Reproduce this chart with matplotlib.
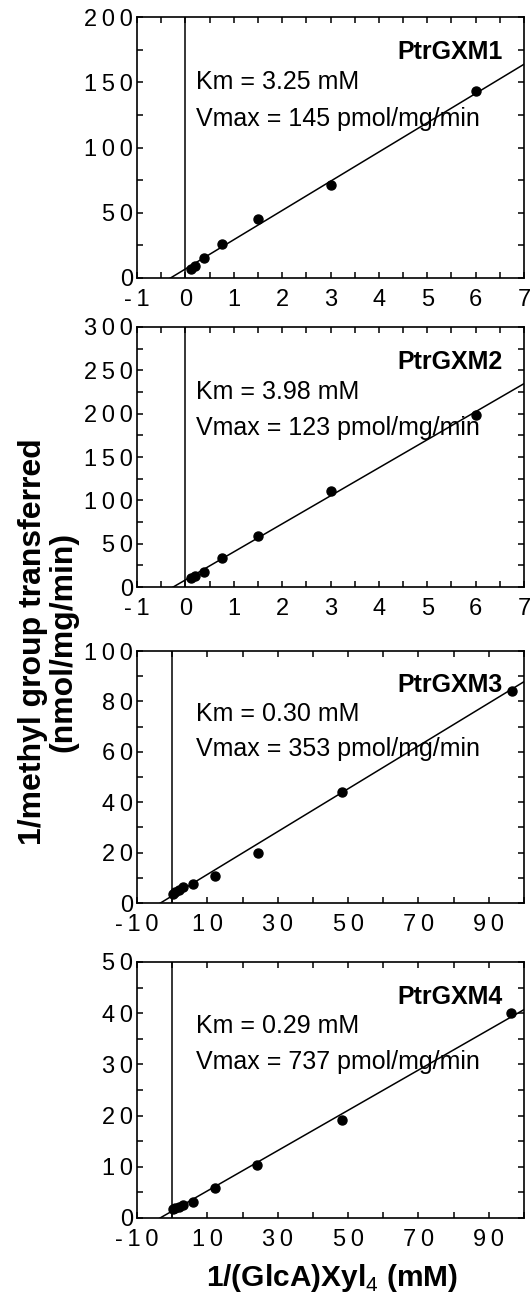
#Lineweaver-Burk plots for PtrGXM1-4
import numpy as np
import matplotlib
matplotlib.use("Agg")
import matplotlib.pyplot as plt
from matplotlib.ticker import MultipleLocator, FixedLocator, FuncFormatter

plt.rcParams['font.family'] = ['Liberation Sans', 'DejaVu Sans']
plt.rcParams['mathtext.fontset'] = 'custom'
plt.rcParams['mathtext.rm'] = 'Liberation Sans'
plt.rcParams['mathtext.bf'] = 'Liberation Sans:bold'

#Data
names = ["PtrGXM1", "PtrGXM2", "PtrGXM3", "PtrGXM4"]
km = [3.25, 3.98, 0.30, 0.29]        # mM
vmax = [145, 123, 353, 737]          # pmol/mg/min

x1 = [0.125, 0.19, 0.375, 0.75, 1.5, 3.0, 6.0]
y1 = [7.0, 9.3, 15.4, 26.0, 45.0, 71.5, 143.0]
x2 = [0.125, 0.19, 0.375, 0.75, 1.5, 3.0, 6.0]
y2 = [10.4, 12.7, 17.7, 33.5, 58.8, 111.0, 199.0]
x3 = [0.3, 0.9, 1.8, 3.0, 6.0, 12.3, 24.3, 48.4, 96.6]
y3 = [3.7, 4.5, 5.2, 6.2, 7.7, 10.8, 20.0, 44.0, 84.0]
x4 = [0.1, 0.9, 1.8, 3.0, 6.0, 12.3, 24.2, 48.3, 96.4]
y4 = [1.8, 1.9, 2.1, 2.5, 3.1, 5.8, 10.3, 19.2, 40.0]

xs = [x1, x2, x3, x4]
ys = [y1, y2, y3, y4]
xlims = [(-1, 7), (-1, 7), (-10, 100), (-10, 100)]
ylims = [(0, 200), (0, 300), (0, 100), (0, 50)]
xlabels = [[-1, 0, 1, 2, 3, 4, 5, 6, 7], [-1, 0, 1, 2, 3, 4, 5, 6, 7],
           [-10, 10, 30, 50, 70, 90], [-10, 10, 30, 50, 70, 90]]
xminor = [0.5, 0.5, 10, 10]
ylabels = [[0, 50, 100, 150, 200], [0, 50, 100, 150, 200, 250, 300],
           [0, 20, 40, 60, 80, 100], [0, 10, 20, 30, 40, 50]]
yminor = [25, 25, 10, 5]

#axes boxes in pixels: top, bottom
boxes = [(17, 278), (327, 587), (651, 903), (962, 1218)]
W, H = 530, 1294
left, right = 137, 524


def spaced(v, pos):
    #wide digit spacing like the original figure
    return "\u2009".join(f"{int(v)}")


fig = plt.figure(figsize=(W / 100, H / 100), dpi=100)

for i in range(4):
    top, bot = boxes[i]
    ax = fig.add_axes([left / W, 1 - bot / H, (right - left) / W, (bot - top) / H])
    ax.set_xlim(*xlims[i])
    ax.set_ylim(*ylims[i])

    #fitted line from Km and Vmax (Vmax in nmol)
    v = vmax[i] / 1000.0
    xx = np.array(xlims[i], dtype=float)
    ax.plot(xx, km[i] / v * xx + 1 / v, color='black', lw=1.1)
    ax.axvline(0, color='black', lw=1.1)
    ax.plot(xs[i], ys[i], 'o', color='black', ms=6.5)

    ax.xaxis.set_major_locator(FixedLocator(xlabels[i]))
    ax.xaxis.set_minor_locator(MultipleLocator(xminor[i]))
    ax.yaxis.set_major_locator(FixedLocator(ylabels[i]))
    ax.yaxis.set_minor_locator(MultipleLocator(yminor[i]))
    ax.xaxis.set_major_formatter(FuncFormatter(spaced))
    ax.yaxis.set_major_formatter(FuncFormatter(spaced))
    ax.tick_params(which='both', direction='in', top=True, right=True,
                   length=4, width=1.1)
    ax.tick_params(axis='x', labelsize=17, pad=8)
    ax.tick_params(axis='y', labelsize=17, pad=3)
    for s in ax.spines.values():
        s.set_linewidth(1.2)

    ax.text(0.945, 0.865, names[i], transform=ax.transAxes, ha='right',
            va='center', fontsize=18, fontweight='bold')
    ax.text(0.152, 0.75, f"Km = {km[i]:.2f} mM", transform=ax.transAxes,
            ha='left', va='center', fontsize=18)
    ax.text(0.152, 0.61, f"Vmax = {vmax[i]} pmol/mg/min", transform=ax.transAxes,
            ha='left', va='center', fontsize=18)

fig.text(48 / W, 1 - 642 / H, "1/methyl group transferred\n(nmol/mg/min)",
         rotation=90, ha='center', va='center', fontsize=23,
         fontweight='bold', multialignment='center', linespacing=1.0)
fig.text(332 / W, 1 - 1278 / H, r"1/(GlcA)Xyl$_{\mathrm{4}}$ (mM)",
         ha='center', va='center', fontsize=21.5, fontweight='bold')

plt.savefig("out.png", dpi=100)
